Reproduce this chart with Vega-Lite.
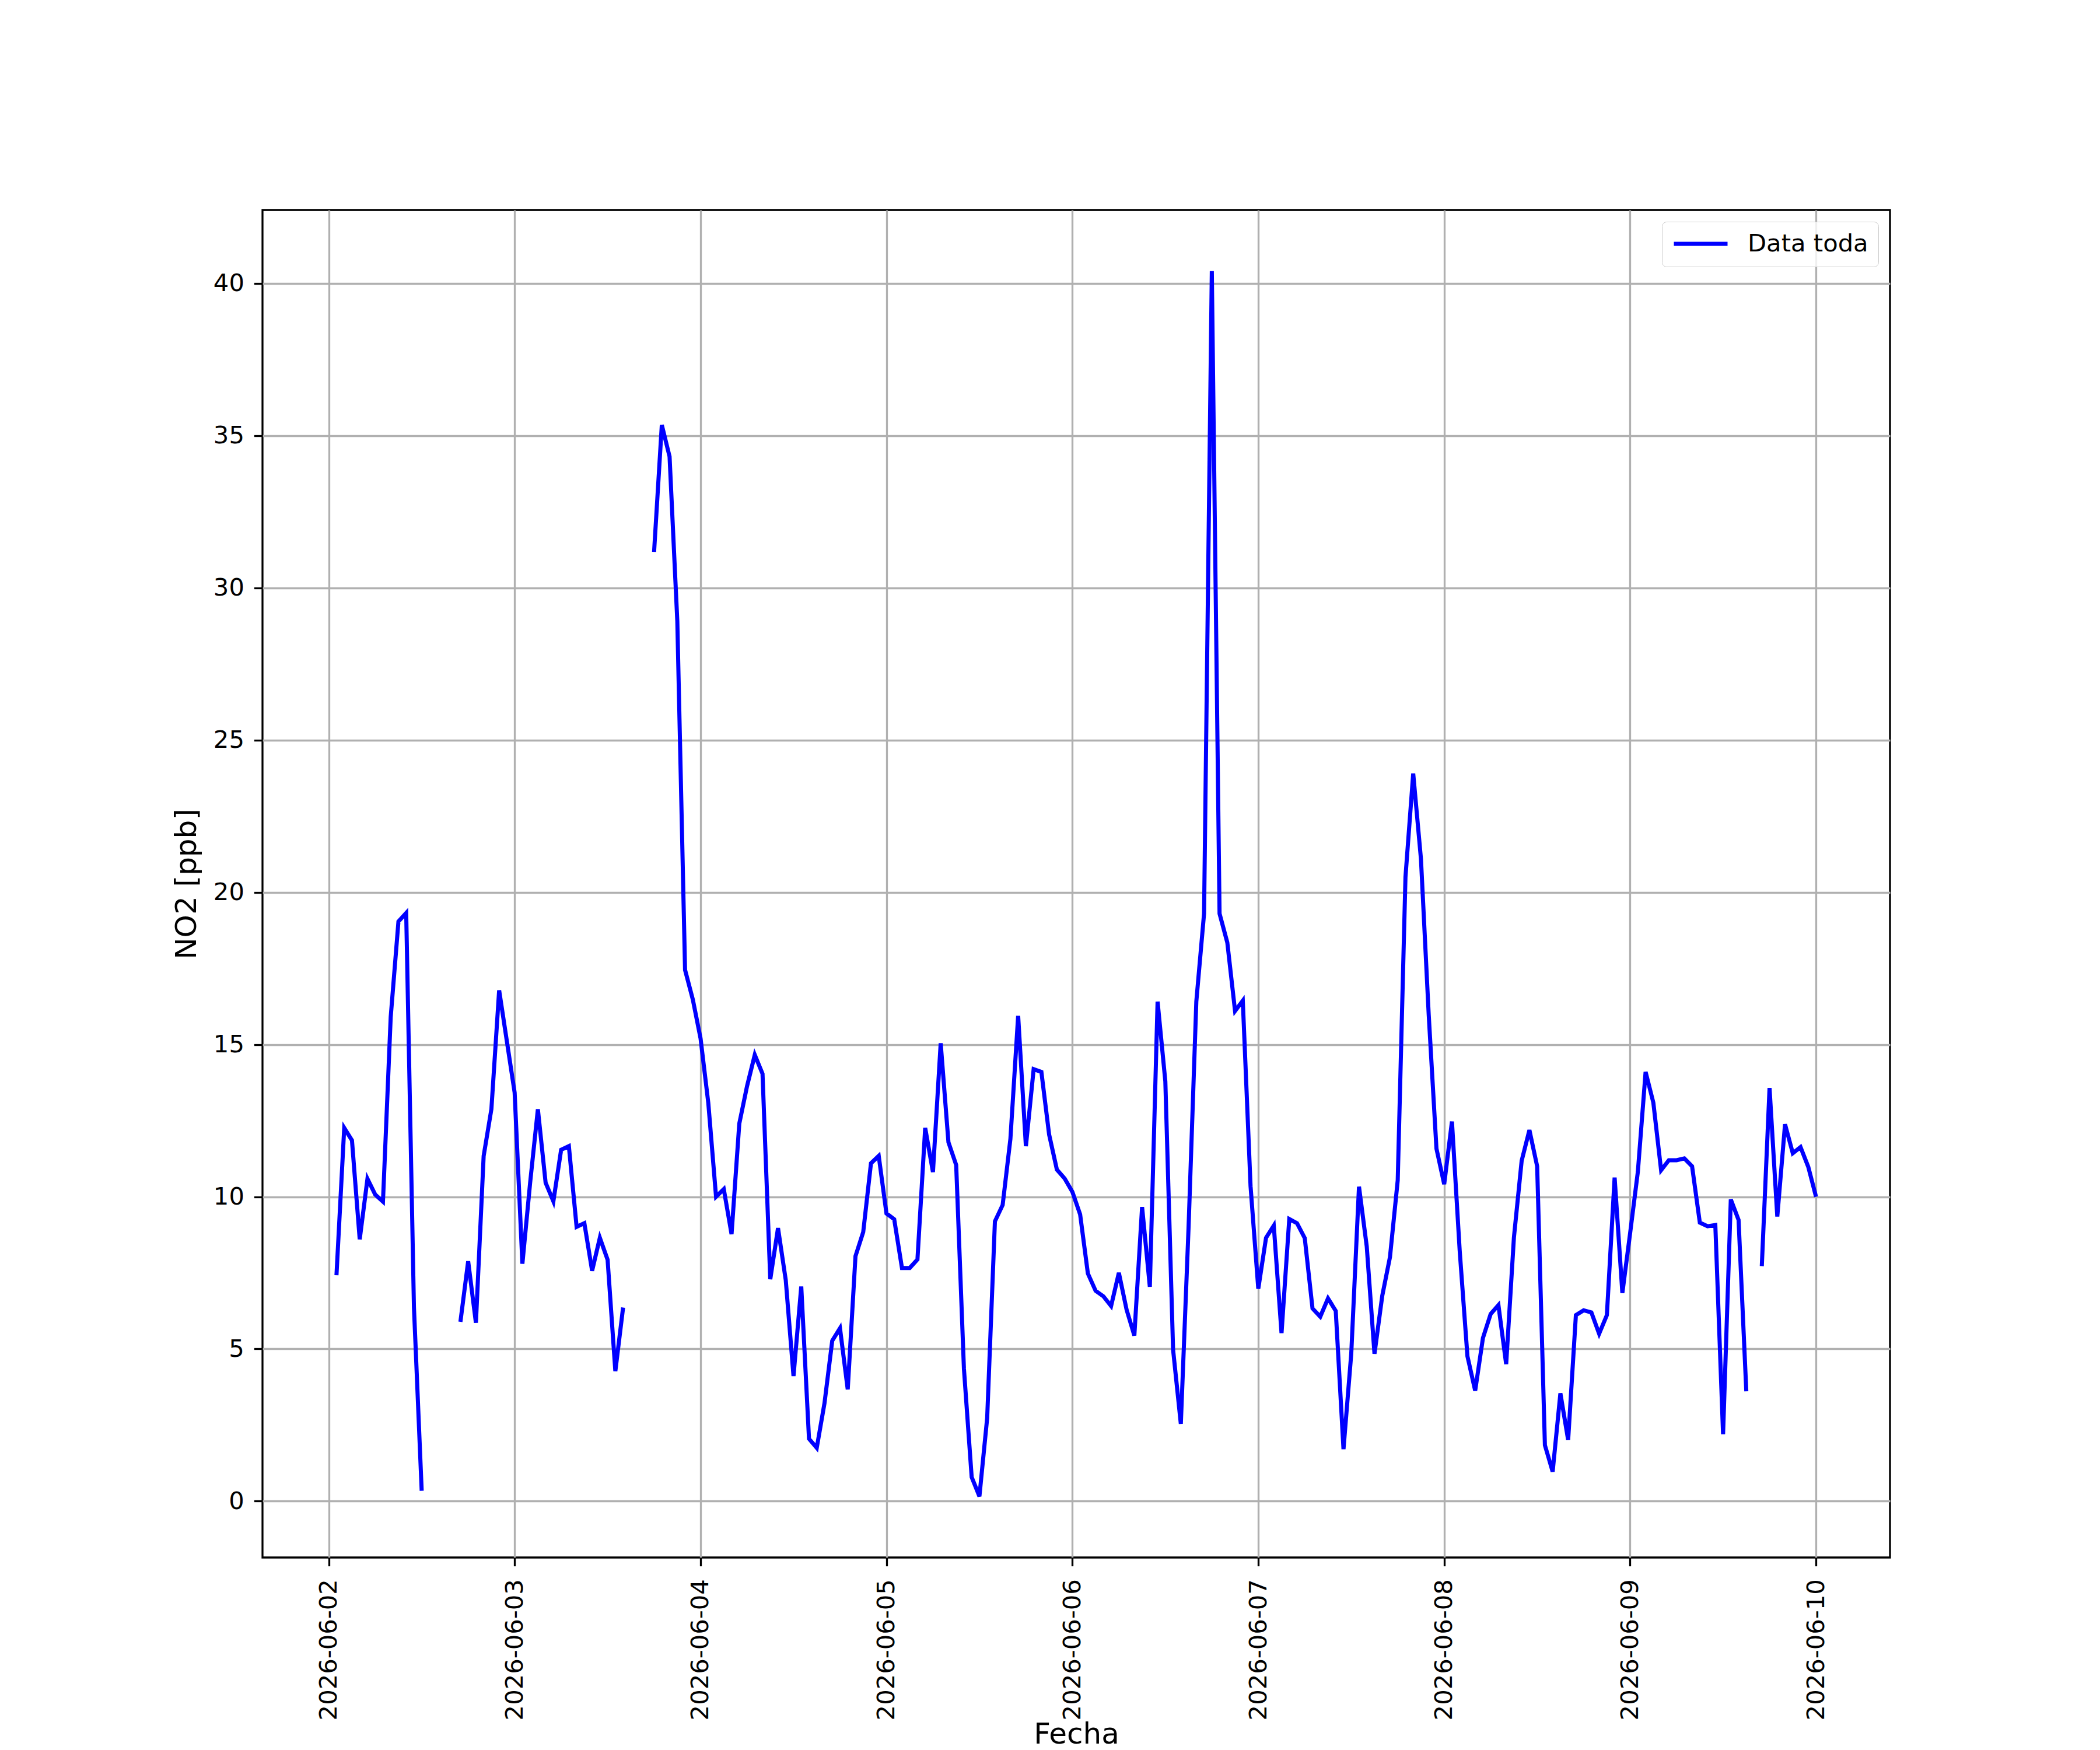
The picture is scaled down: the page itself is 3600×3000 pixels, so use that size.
{
  "$schema": "https://vega.github.io/schema/vega-lite/v6.json",
  "width": 2790,
  "height": 2310,
  "autosize": {"type": "none"},
  "padding": {"left": 450, "top": 360, "right": 360, "bottom": 330},
  "background": "white",
  "config": {
    "font": "DejaVu Sans",
    "view": {"stroke": "black", "strokeWidth": 3.3},
    "axis": {
      "grid": true,
      "gridColor": "#b0b0b0",
      "gridWidth": 3.3,
      "gridOpacity": 1,
      "domain": false,
      "tickColor": "black",
      "tickWidth": 3.3,
      "tickSize": 14.6,
      "labelFont": "DejaVu Sans",
      "labelFontSize": 41.7,
      "labelColor": "black",
      "labelLimit": 0,
      "titleFont": "DejaVu Sans",
      "titleFontSize": 50,
      "titleFontWeight": "normal",
      "titleColor": "black",
      "labelFlush": false,
      "labelOverlap": false,
      "labelBound": false
    }
  },
  "data": {
    "values": [
      {"t": "2026-06-02T01:00", "v": 7.42},
      {"t": "2026-06-02T02:00", "v": 12.26},
      {"t": "2026-06-02T03:00", "v": 11.85},
      {"t": "2026-06-02T04:00", "v": 8.6},
      {"t": "2026-06-02T05:00", "v": 10.59},
      {"t": "2026-06-02T06:00", "v": 10.07},
      {"t": "2026-06-02T07:00", "v": 9.84},
      {"t": "2026-06-02T08:00", "v": 15.9},
      {"t": "2026-06-02T09:00", "v": 19.04},
      {"t": "2026-06-02T10:00", "v": 19.32},
      {"t": "2026-06-02T11:00", "v": 6.37},
      {"t": "2026-06-02T12:00", "v": 0.34},
      {"t": "2026-06-02T13:00", "v": null},
      {"t": "2026-06-02T14:00", "v": null},
      {"t": "2026-06-02T15:00", "v": null},
      {"t": "2026-06-02T16:00", "v": null},
      {"t": "2026-06-02T17:00", "v": 5.89},
      {"t": "2026-06-02T18:00", "v": 7.88},
      {"t": "2026-06-02T19:00", "v": 5.86},
      {"t": "2026-06-02T20:00", "v": 11.34},
      {"t": "2026-06-02T21:00", "v": 12.88},
      {"t": "2026-06-02T22:00", "v": 16.78},
      {"t": "2026-06-02T23:00", "v": 15.1},
      {"t": "2026-06-03T00:00", "v": 13.42},
      {"t": "2026-06-03T01:00", "v": 7.8},
      {"t": "2026-06-03T02:00", "v": 10.46},
      {"t": "2026-06-03T03:00", "v": 12.87},
      {"t": "2026-06-03T04:00", "v": 10.46},
      {"t": "2026-06-03T05:00", "v": 9.85},
      {"t": "2026-06-03T06:00", "v": 11.54},
      {"t": "2026-06-03T07:00", "v": 11.66},
      {"t": "2026-06-03T08:00", "v": 9.01},
      {"t": "2026-06-03T09:00", "v": 9.13},
      {"t": "2026-06-03T10:00", "v": 7.57},
      {"t": "2026-06-03T11:00", "v": 8.65},
      {"t": "2026-06-03T12:00", "v": 7.93},
      {"t": "2026-06-03T13:00", "v": 4.27},
      {"t": "2026-06-03T14:00", "v": 6.36},
      {"t": "2026-06-03T15:00", "v": null},
      {"t": "2026-06-03T16:00", "v": null},
      {"t": "2026-06-03T17:00", "v": null},
      {"t": "2026-06-03T18:00", "v": 31.18},
      {"t": "2026-06-03T19:00", "v": 35.35},
      {"t": "2026-06-03T20:00", "v": 34.31},
      {"t": "2026-06-03T21:00", "v": 28.9},
      {"t": "2026-06-03T22:00", "v": 17.45},
      {"t": "2026-06-03T23:00", "v": 16.48},
      {"t": "2026-06-04T00:00", "v": 15.2},
      {"t": "2026-06-04T01:00", "v": 13.08},
      {"t": "2026-06-04T02:00", "v": 10.0},
      {"t": "2026-06-04T03:00", "v": 10.25},
      {"t": "2026-06-04T04:00", "v": 8.77},
      {"t": "2026-06-04T05:00", "v": 12.4},
      {"t": "2026-06-04T06:00", "v": 13.63},
      {"t": "2026-06-04T07:00", "v": 14.66},
      {"t": "2026-06-04T08:00", "v": 14.04},
      {"t": "2026-06-04T09:00", "v": 7.29},
      {"t": "2026-06-04T10:00", "v": 8.97},
      {"t": "2026-06-04T11:00", "v": 7.26},
      {"t": "2026-06-04T12:00", "v": 4.11},
      {"t": "2026-06-04T13:00", "v": 7.05},
      {"t": "2026-06-04T14:00", "v": 2.05},
      {"t": "2026-06-04T15:00", "v": 1.75},
      {"t": "2026-06-04T16:00", "v": 3.22},
      {"t": "2026-06-04T17:00", "v": 5.27},
      {"t": "2026-06-04T18:00", "v": 5.68},
      {"t": "2026-06-04T19:00", "v": 3.67},
      {"t": "2026-06-04T20:00", "v": 8.05},
      {"t": "2026-06-04T21:00", "v": 8.84},
      {"t": "2026-06-04T22:00", "v": 11.1},
      {"t": "2026-06-04T23:00", "v": 11.34},
      {"t": "2026-06-05T00:00", "v": 9.45},
      {"t": "2026-06-05T01:00", "v": 9.26},
      {"t": "2026-06-05T02:00", "v": 7.66},
      {"t": "2026-06-05T03:00", "v": 7.66},
      {"t": "2026-06-05T04:00", "v": 7.94},
      {"t": "2026-06-05T05:00", "v": 12.26},
      {"t": "2026-06-05T06:00", "v": 10.81},
      {"t": "2026-06-05T07:00", "v": 15.04},
      {"t": "2026-06-05T08:00", "v": 11.79},
      {"t": "2026-06-05T09:00", "v": 11.04},
      {"t": "2026-06-05T10:00", "v": 4.35},
      {"t": "2026-06-05T11:00", "v": 0.79},
      {"t": "2026-06-05T12:00", "v": 0.16},
      {"t": "2026-06-05T13:00", "v": 2.73},
      {"t": "2026-06-05T14:00", "v": 9.19},
      {"t": "2026-06-05T15:00", "v": 9.73},
      {"t": "2026-06-05T16:00", "v": 11.9},
      {"t": "2026-06-05T17:00", "v": 15.94},
      {"t": "2026-06-05T18:00", "v": 11.66},
      {"t": "2026-06-05T19:00", "v": 14.19},
      {"t": "2026-06-05T20:00", "v": 14.1},
      {"t": "2026-06-05T21:00", "v": 12.04},
      {"t": "2026-06-05T22:00", "v": 10.89},
      {"t": "2026-06-05T23:00", "v": 10.6},
      {"t": "2026-06-06T00:00", "v": 10.16},
      {"t": "2026-06-06T01:00", "v": 9.42},
      {"t": "2026-06-06T02:00", "v": 7.48},
      {"t": "2026-06-06T03:00", "v": 6.91},
      {"t": "2026-06-06T04:00", "v": 6.73},
      {"t": "2026-06-06T05:00", "v": 6.41},
      {"t": "2026-06-06T06:00", "v": 7.5},
      {"t": "2026-06-06T07:00", "v": 6.29},
      {"t": "2026-06-06T08:00", "v": 5.44},
      {"t": "2026-06-06T09:00", "v": 9.66},
      {"t": "2026-06-06T10:00", "v": 7.04},
      {"t": "2026-06-06T11:00", "v": 16.41},
      {"t": "2026-06-06T12:00", "v": 13.79},
      {"t": "2026-06-06T13:00", "v": 4.98},
      {"t": "2026-06-06T14:00", "v": 2.54},
      {"t": "2026-06-06T15:00", "v": 9.0},
      {"t": "2026-06-06T16:00", "v": 16.41},
      {"t": "2026-06-06T17:00", "v": 19.3},
      {"t": "2026-06-06T18:00", "v": 40.4},
      {"t": "2026-06-06T19:00", "v": 19.3},
      {"t": "2026-06-06T20:00", "v": 18.35},
      {"t": "2026-06-06T21:00", "v": 16.1},
      {"t": "2026-06-06T22:00", "v": 16.44},
      {"t": "2026-06-06T23:00", "v": 10.35},
      {"t": "2026-06-07T00:00", "v": 6.98},
      {"t": "2026-06-07T01:00", "v": 8.65},
      {"t": "2026-06-07T02:00", "v": 9.05},
      {"t": "2026-06-07T03:00", "v": 5.52},
      {"t": "2026-06-07T04:00", "v": 9.27},
      {"t": "2026-06-07T05:00", "v": 9.13},
      {"t": "2026-06-07T06:00", "v": 8.64},
      {"t": "2026-06-07T07:00", "v": 6.33},
      {"t": "2026-06-07T08:00", "v": 6.06},
      {"t": "2026-06-07T09:00", "v": 6.66},
      {"t": "2026-06-07T10:00", "v": 6.25},
      {"t": "2026-06-07T11:00", "v": 1.71},
      {"t": "2026-06-07T12:00", "v": 4.84},
      {"t": "2026-06-07T13:00", "v": 10.33},
      {"t": "2026-06-07T14:00", "v": 8.37},
      {"t": "2026-06-07T15:00", "v": 4.84},
      {"t": "2026-06-07T16:00", "v": 6.74},
      {"t": "2026-06-07T17:00", "v": 8.02},
      {"t": "2026-06-07T18:00", "v": 10.54},
      {"t": "2026-06-07T19:00", "v": 20.5},
      {"t": "2026-06-07T20:00", "v": 23.9},
      {"t": "2026-06-07T21:00", "v": 21.09},
      {"t": "2026-06-07T22:00", "v": 15.98},
      {"t": "2026-06-07T23:00", "v": 11.58},
      {"t": "2026-06-08T00:00", "v": 10.41},
      {"t": "2026-06-08T01:00", "v": 12.47},
      {"t": "2026-06-08T02:00", "v": 8.23},
      {"t": "2026-06-08T03:00", "v": 4.76},
      {"t": "2026-06-08T04:00", "v": 3.63},
      {"t": "2026-06-08T05:00", "v": 5.36},
      {"t": "2026-06-08T06:00", "v": 6.15},
      {"t": "2026-06-08T07:00", "v": 6.44},
      {"t": "2026-06-08T08:00", "v": 4.5},
      {"t": "2026-06-08T09:00", "v": 8.66},
      {"t": "2026-06-08T10:00", "v": 11.18},
      {"t": "2026-06-08T11:00", "v": 12.19},
      {"t": "2026-06-08T12:00", "v": 11.0},
      {"t": "2026-06-08T13:00", "v": 1.84},
      {"t": "2026-06-08T14:00", "v": 0.97},
      {"t": "2026-06-08T15:00", "v": 3.54},
      {"t": "2026-06-08T16:00", "v": 2.01},
      {"t": "2026-06-08T17:00", "v": 6.11},
      {"t": "2026-06-08T18:00", "v": 6.27},
      {"t": "2026-06-08T19:00", "v": 6.2},
      {"t": "2026-06-08T20:00", "v": 5.5},
      {"t": "2026-06-08T21:00", "v": 6.11},
      {"t": "2026-06-08T22:00", "v": 10.63},
      {"t": "2026-06-08T23:00", "v": 6.84},
      {"t": "2026-06-09T00:00", "v": 8.8},
      {"t": "2026-06-09T01:00", "v": 10.82},
      {"t": "2026-06-09T02:00", "v": 14.1},
      {"t": "2026-06-09T03:00", "v": 13.09},
      {"t": "2026-06-09T04:00", "v": 10.87},
      {"t": "2026-06-09T05:00", "v": 11.2},
      {"t": "2026-06-09T06:00", "v": 11.2},
      {"t": "2026-06-09T07:00", "v": 11.26},
      {"t": "2026-06-09T08:00", "v": 11.0},
      {"t": "2026-06-09T09:00", "v": 9.15},
      {"t": "2026-06-09T10:00", "v": 9.03},
      {"t": "2026-06-09T11:00", "v": 9.07},
      {"t": "2026-06-09T12:00", "v": 2.2},
      {"t": "2026-06-09T13:00", "v": 9.91},
      {"t": "2026-06-09T14:00", "v": 9.24},
      {"t": "2026-06-09T15:00", "v": 3.61},
      {"t": "2026-06-09T16:00", "v": null},
      {"t": "2026-06-09T17:00", "v": 7.72},
      {"t": "2026-06-09T18:00", "v": 13.57},
      {"t": "2026-06-09T19:00", "v": 9.35},
      {"t": "2026-06-09T20:00", "v": 12.38},
      {"t": "2026-06-09T21:00", "v": 11.43},
      {"t": "2026-06-09T22:00", "v": 11.63},
      {"t": "2026-06-09T23:00", "v": 10.98},
      {"t": "2026-06-10T00:00", "v": 10.0}
    ]
  },
  "mark": {"type": "line", "strokeWidth": 7, "invalid": "break-paths-filter-domains"},
  "encoding": {
    "x": {
      "field": "t",
      "type": "temporal",
      "title": "Fecha",
      "scale": {
        "domain": [
          {"year": 2026, "month": 6, "date": 1, "hours": 15, "minutes": 27},
          {"year": 2026, "month": 6, "date": 10, "hours": 9, "minutes": 33}
        ],
        "nice": false
      },
      "axis": {
        "format": "%Y-%m-%d",
        "labelAngle": 270,
        "tickCount": {"interval": "day", "step": 1},
        "labelPadding": 22,
        "titleY": 318,
        "titleBaseline": "alphabetic"
      }
    },
    "y": {
      "field": "v",
      "type": "quantitative",
      "title": "NO2 [ppb]",
      "scale": {"domain": [-1.85, 42.41], "nice": false, "zero": false},
      "axis": {
        "values": [0, 5, 10, 15, 20, 25, 30, 35, 40],
        "labelPadding": 17,
        "titleAngle": 270,
        "titleX": -130,
        "titleY": 1155,
        "titleAlign": "center",
        "titleBaseline": "middle"
      }
    },
    "color": {
      "datum": "Data toda",
      "scale": {"range": ["blue"]},
      "legend": {
        "title": null,
        "orient": "top-right",
        "offset": 20,
        "symbolType": "stroke",
        "symbolStrokeWidth": 7,
        "symbolSize": 8464,
        "clipHeight": 42,
        "labelFont": "DejaVu Sans",
        "labelFontSize": 41.7,
        "labelColor": "black",
        "labelOffset": 31,
        "labelLimit": 0,
        "fillColor": "rgba(255,255,255,0.8)",
        "strokeColor": "#cccccc",
        "cornerRadius": 8,
        "padding": 17
      }
    }
  }
}
